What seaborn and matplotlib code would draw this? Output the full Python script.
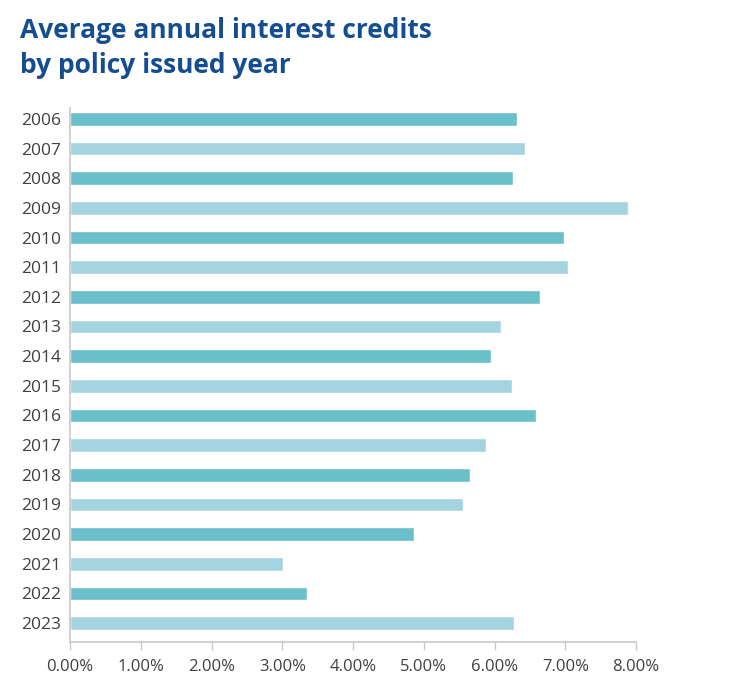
import matplotlib
matplotlib.use("Agg")
import matplotlib.pyplot as plt
import pandas as pd
import seaborn as sns
from matplotlib.ticker import FuncFormatter

# --- Data --------------------------------------------------------------------
years = ["2006", "2007", "2008", "2009", "2010", "2011", "2012", "2013", "2014",
         "2015", "2016", "2017", "2018", "2019", "2020", "2021", "2022", "2023"]
credits = [6.32, 6.43, 6.26, 7.89, 6.98, 7.04, 6.64, 6.09, 5.95,
           6.25, 6.59, 5.88, 5.65, 5.55, 4.86, 3.01, 3.35, 6.28]
x_ticks = [0, 1, 2, 3, 4, 5, 6, 7, 8]

title = "Average annual interest credits\nby policy issued year"

dark_teal = "#6BBFCB"
light_teal = "#A3D4DF"
palette = [dark_teal if i % 2 == 0 else light_teal for i in range(len(years))]

df = pd.DataFrame({"year": years, "credit": credits})

# --- Plot --------------------------------------------------------------------
sns.set_style("white")
plt.rcParams["font.family"] = ["Open Sans", "DejaVu Sans"]

fig = plt.figure(figsize=(7.32, 6.92), dpi=100)
ax = fig.add_axes([0.0956, 0.0723, 0.7735, 0.7717])

sns.barplot(data=df, x="credit", y="year", hue="year", palette=palette,
            order=years, orient="h", width=0.46, legend=False, ax=ax,
            saturation=1)

ax.set_xlim(0, 8)
ax.set_ylim(17.64, -0.37)
ax.set_xticks(x_ticks)
ax.xaxis.set_major_formatter(FuncFormatter(lambda v, _: f"{v:.2f}%"))
ax.set_xlabel("")
ax.set_ylabel("")

for side in ["top", "right"]:
    ax.spines[side].set_visible(False)
for side in ["left", "bottom"]:
    ax.spines[side].set_color("#C8C8C8")
    ax.spines[side].set_linewidth(1.2)

ax.tick_params(axis="x", bottom=True, length=6, width=1, color="#C8C8C8",
               labelsize=12, labelcolor="#404040", pad=6)
ax.tick_params(axis="y", left=False, labelsize=12.5, labelcolor="#404040", pad=3)

fig.text(0.027, 0.975, title, ha="left", va="top", fontsize=19,
         fontweight="bold", color="#154D91", linespacing=1.35)

fig.savefig("out.png", dpi=100)
plt.close(fig)
